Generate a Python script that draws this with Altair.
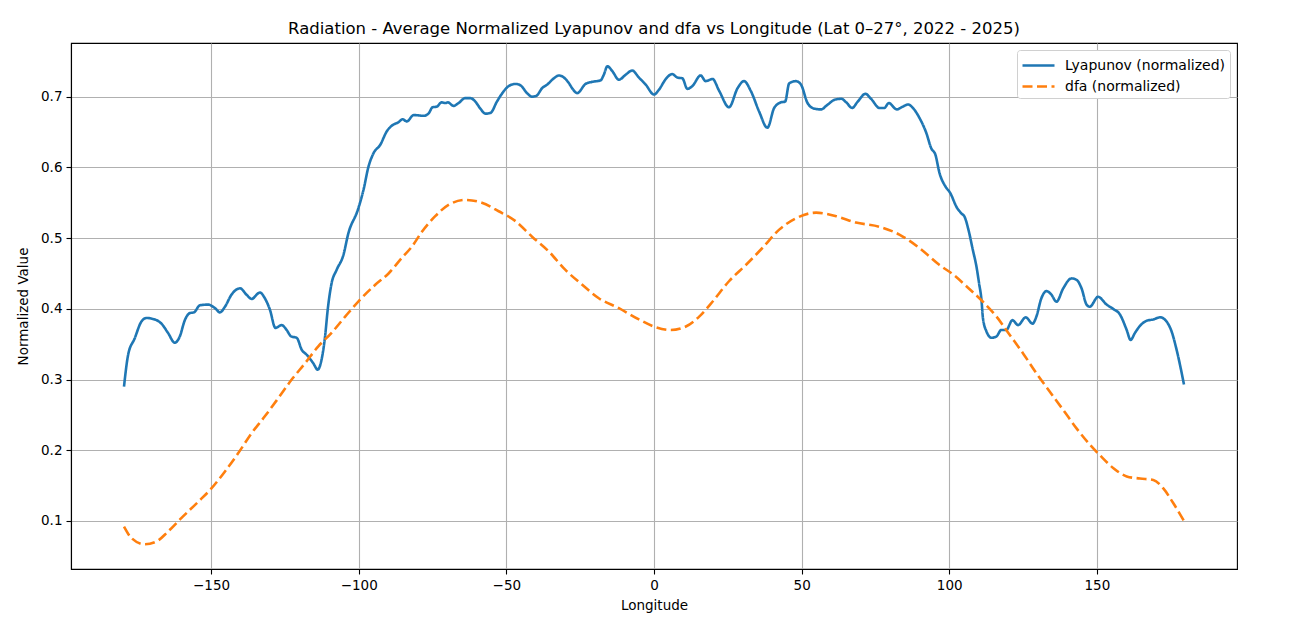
import altair as alt
import pandas as pd

lyap_lon = [-179.5, -178.1, -175.9, -173.6, -171.9, -169.1, -166.8, -164.6, -162.3, -160.6,
            -158.9, -157.2, -155.8, -153.8, -151.0, -148.7, -147.0, -145.3, -143.1, -140.2,
            -138.0, -136.3, -133.5, -131.8, -130.1, -128.2, -126.1, -124.4, -122.9, -121.0,
            -119.3, -117.6, -115.4, -113.9, -112.6, -111.4, -110.5, -109.2, -107.5, -105.2,
            -103.5, -100.3, -98.4, -96.7, -95.0, -92.7, -90.5, -88.8, -86.5, -85.2,
            -83.7, -81.4, -78.0, -76.4, -75.0, -73.5, -72.0, -70.7, -69.8, -67.9,
            -66.2, -63.9, -62.2, -60.5, -58.8, -57.1, -55.4, -53.2, -51.2, -49.2,
            -46.9, -45.2, -43.0, -41.3, -39.9, -37.9, -36.2, -33.9, -32.2, -30.5,
            -28.8, -27.4, -26.0, -23.2, -20.9, -18.1, -17.0, -15.8, -14.1, -11.9,
            -9.6, -7.4, -5.1, -2.8, 0.0, 1.7, 4.0, 6.2, 7.9, 9.6,
            11.3, 13.0, 15.8, 17.5, 19.8, 22.1, 25.4, 28.3, 30.5, 32.8,
            35.6, 38.4, 40.7, 43.0, 44.4, 45.8, 48.1, 49.8, 52.0, 54.3,
            56.6, 58.6, 61.4, 63.4, 65.1, 67.1, 69.0, 71.6, 73.5, 76.4,
            78.0, 79.5, 82.2, 84.3, 86.0, 87.7, 89.9, 92.2, 93.9, 95.3,
            96.7, 98.7, 100.3, 102.6, 104.1, 105.2, 106.6, 108.0, 109.2, 110.1,
            110.9, 111.4, 112.6, 114.3, 116.0, 117.6, 119.3, 121.4, 123.3, 125.9,
            128.2, 129.5, 131.2, 132.9, 134.6, 136.3, 138.6, 141.4, 143.1, 144.8,
            146.5, 147.6, 150.4, 153.3, 155.5, 157.8, 160.1, 161.4, 162.9, 164.6,
            166.8, 169.1, 171.4, 173.6, 175.3, 177.0, 179.5]
lyap_val = [0.290, 0.335, 0.358, 0.382, 0.387, 0.385, 0.379, 0.366, 0.352, 0.361,
            0.384, 0.394, 0.395, 0.405, 0.406, 0.401, 0.395, 0.403, 0.420, 0.429,
            0.420, 0.414, 0.423, 0.415, 0.399, 0.373, 0.377, 0.370, 0.361, 0.359,
            0.342, 0.335, 0.323, 0.314, 0.328, 0.361, 0.399, 0.436, 0.455, 0.476,
            0.507, 0.540, 0.568, 0.601, 0.620, 0.632, 0.651, 0.659, 0.664, 0.668,
            0.665, 0.674, 0.673, 0.676, 0.685, 0.686, 0.692, 0.691, 0.692, 0.687,
            0.691, 0.698, 0.698, 0.693, 0.683, 0.676, 0.677, 0.693, 0.706, 0.715,
            0.718, 0.716, 0.705, 0.700, 0.701, 0.712, 0.717, 0.726, 0.730, 0.727,
            0.719, 0.710, 0.705, 0.718, 0.721, 0.723, 0.731, 0.743, 0.736, 0.724,
            0.731, 0.737, 0.727, 0.717, 0.703, 0.710, 0.725, 0.732, 0.727, 0.726,
            0.711, 0.715, 0.730, 0.722, 0.725, 0.708, 0.685, 0.712, 0.722, 0.708,
            0.679, 0.656, 0.684, 0.692, 0.693, 0.719, 0.722, 0.717, 0.691, 0.683,
            0.682, 0.688, 0.696, 0.697, 0.692, 0.684, 0.693, 0.704, 0.697, 0.684,
            0.684, 0.691, 0.682, 0.686, 0.689, 0.684, 0.670, 0.649, 0.627, 0.618,
            0.592, 0.573, 0.564, 0.543, 0.535, 0.530, 0.510, 0.483, 0.460, 0.436,
            0.413, 0.387, 0.368, 0.359, 0.361, 0.370, 0.370, 0.384, 0.377, 0.388,
            0.379, 0.389, 0.415, 0.425, 0.420, 0.410, 0.429, 0.443, 0.441, 0.429,
            0.406, 0.403, 0.417, 0.406, 0.400, 0.392, 0.370, 0.356, 0.366, 0.376,
            0.383, 0.385, 0.388, 0.382, 0.368, 0.342, 0.293]

dfa_lon = [-179.5, -177.0, -172.5, -168.5, -164.6, -160.1, -154.4, -149.9, -145.3, -140.8,
           -136.3, -131.8, -127.2, -122.7, -118.2, -113.7, -109.2, -104.6, -100.0, -94.4,
           -89.9, -85.4, -82.0, -78.6, -74.1, -69.6, -63.9, -58.3, -52.6, -46.9,
           -41.3, -35.6, -30.0, -24.3, -18.7, -11.9, -5.1, 0.6, 5.7, 10.8,
           15.3, 19.8, 25.4, 31.1, 36.7, 42.4, 48.1, 54.9, 61.7, 68.4,
           76.4, 83.1, 89.9, 96.7, 101.5, 105.8, 111.4, 116.0, 120.5, 125.0,
           129.5, 134.0, 138.6, 143.1, 147.6, 151.0, 155.5, 160.1, 164.6, 169.1,
           172.5, 175.9, 179.5]
dfa_val = [0.092, 0.076, 0.067, 0.071, 0.085, 0.104, 0.127, 0.146, 0.170, 0.196,
           0.224, 0.248, 0.274, 0.300, 0.323, 0.347, 0.366, 0.389, 0.411, 0.434,
           0.450, 0.472, 0.488, 0.509, 0.531, 0.547, 0.554, 0.550, 0.538, 0.524,
           0.502, 0.481, 0.455, 0.434, 0.415, 0.401, 0.385, 0.374, 0.370, 0.375,
           0.389, 0.410, 0.439, 0.462, 0.486, 0.512, 0.528, 0.536, 0.531, 0.522,
           0.516, 0.505, 0.486, 0.462, 0.448, 0.432, 0.410, 0.389, 0.363, 0.337,
           0.309, 0.283, 0.257, 0.231, 0.208, 0.193, 0.175, 0.163, 0.160, 0.158,
           0.146, 0.125, 0.100]

series_names = ["Lyapunov (normalized)", "dfa (normalized)"]
series_colors = ["#1f77b4", "#ff7f0e"]
x_ticks = [-150, -100, -50, 0, 50, 100, 150]
y_ticks = [0.1, 0.2, 0.3, 0.4, 0.5, 0.6, 0.7]

df = pd.concat([
    pd.DataFrame({"lon": lyap_lon, "value": lyap_val, "series": series_names[0], "order": range(len(lyap_lon))}),
    pd.DataFrame({"lon": dfa_lon, "value": dfa_val, "series": series_names[1], "order": range(len(dfa_lon))}),
])

font = "DejaVu Sans"

chart = alt.Chart(df).mark_line(strokeWidth=2.6, interpolate="monotone", clip=True).encode(
    x=alt.X("lon:Q", scale=alt.Scale(domain=[-197.45, 197.45], nice=False, zero=False),
            axis=alt.Axis(values=x_ticks, format="d", title="Longitude")),
    y=alt.Y("value:Q", scale=alt.Scale(domain=[0.0321, 0.7759], nice=False, zero=False),
            axis=alt.Axis(values=y_ticks, format=".1f", title="Normalized Value")),
    color=alt.Color("series:N", scale=alt.Scale(domain=series_names, range=series_colors),
                    legend=alt.Legend(title=None, orient="top-right", offset=7,
                                      symbolType="M-1,0H2.2", symbolSize=400, symbolStrokeWidth=2.6,
                                      symbolFillColor="transparent",
                                      labelFontSize=14, labelFont=font, labelColor="#000000",
                                      labelLimit=400,
                                      fillColor="white", strokeColor="#d0d0d0", cornerRadius=3,
                                      padding=4, rowPadding=2, labelOffset=21)),
    strokeDash=alt.StrokeDash("series:N", scale=alt.Scale(domain=series_names, range=[[1, 0], [10, 4.5]]),
                              legend=alt.Legend(title=None)),
    order="order:Q",
).properties(
    width=1166,
    height=526,
    title=alt.TitleParams(
        "Radiation - Average Normalized Lyapunov and dfa vs Longitude (Lat 0–27°, 2022 - 2025)",
        fontSize=16.5, font=font, fontWeight="normal", color="#000000", offset=6, anchor="middle"),
    padding={"left": 63, "top": 35, "right": 50, "bottom": 50},
    autosize=alt.AutoSizeParams(type="none"),
).configure_view(
    stroke="#000000", strokeWidth=1.1
).configure_axis(
    labelFont=font, titleFont=font, labelFontSize=13.5, titleFontSize=13.5,
    labelColor="#000000", titleColor="#000000", titleFontWeight="normal",
    domainColor="#000000", domainWidth=1.1, tickColor="#000000", tickSize=5, tickWidth=1.1,
    labelPadding=4, grid=True, gridColor="#b0b0b0", gridWidth=1.1,
).configure_axisY(
    titlePadding=10
).configure_axisX(
    titlePadding=7
)

chart.save("out.html", embed_options={"renderer": "svg", "actions": False})
